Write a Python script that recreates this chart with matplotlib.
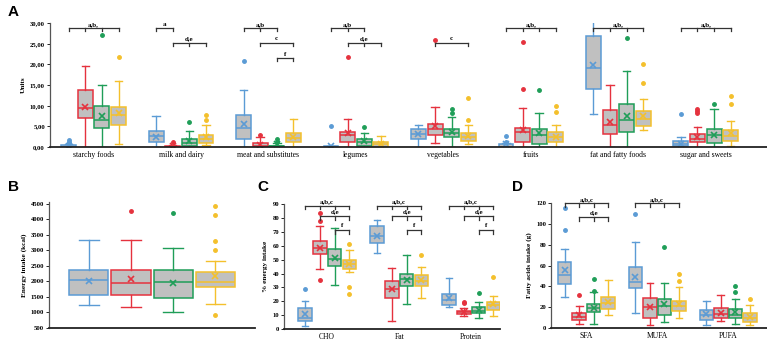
import numpy as np
import matplotlib
matplotlib.use("Agg")
import matplotlib.pyplot as plt
from matplotlib.ticker import FuncFormatter

plt.rcParams["font.family"] = ["Liberation Serif", "DejaVu Serif"]

COLORS = ["#5b9bd5", "#e5323e", "#1f9e58", "#f4c02c"]
GREY = "#c0c0c0"

# ---- Panel A: food groups (units); rows = categories, cols = groups ----
a_cats = ["starchy foods", "milk and dairy", "meat and substitutes", "legumes",
          "vegetables", "fruits", "fat and fatty foods", "sugar and sweets"]
a_lo = [[0, 0, 0, 0.8], [0, 0, 0, 0.4], [0, 0, 0, 0], [0, 0, 0, 0],
        [0, 0.9, 0, 0.6], [0, 0, 0, 0], [7.9, 0, 0, 4.0], [0, 0, 0, 0.3]]
a_q1 = [[0, 7.0, 4.5, 5.4], [1.1, 0, 0.3, 0.9], [1.9, 0, 0, 1.1], [0, 1.3, 0.3, 0],
        [2.0, 2.9, 2.3, 1.5], [0, 1.1, 0.6, 1.1], [14.0, 3.1, 3.6, 5.1], [0.2, 1.2, 0.9, 1.5]]
a_med = [[0.05, 9.5, 6.4, 7.8], [2.7, 0, 0.9, 1.9], [4.6, 0.2, 0.1, 2.2], [0, 2.9, 1.3, 0.6],
         [3.2, 4.3, 3.3, 2.5], [0.05, 3.7, 2.9, 2.5], [19.1, 5.2, 6.5, 6.8], [0.7, 1.9, 2.9, 2.7]]
a_q3 = [[0.35, 13.7, 9.8, 9.6], [3.9, 0.15, 1.9, 2.9], [7.8, 0.9, 0.3, 3.4], [0.1, 3.7, 1.9, 1.1],
        [4.3, 5.6, 4.4, 3.3], [0.6, 4.6, 4.3, 3.7], [26.8, 9.0, 10.4, 8.8], [1.4, 3.2, 4.3, 4.1]]
a_hi = [[0.6, 19.5, 15.0, 16.0], [7.5, 0.4, 3.8, 5.4], [13.9, 2.3, 1.0, 6.7], [0.1, 6.7, 3.3, 2.6],
        [5.2, 9.6, 7.2, 5.4], [0.9, 9.4, 8.3, 5.3], [30.4, 14.9, 18.5, 11.7], [2.5, 4.9, 9.1, 6.2]]
a_mean = [[0.3, 9.6, 7.5, 8.2], [2.5, 0.3, 1.5, 2.3], [5.6, 0.4, 0.6, 2.5], [0.1, 3.3, 1.4, 0.6],
          [3.2, 5.1, 3.5, 2.7], [0.6, 4.1, 3.3, 2.5], [19.9, 6.1, 7.5, 7.5], [0.8, 2.5, 2.9, 3.3]]
a_fliers = [[[0.9, 1.3, 1.6], [], [27.0], [21.8]],
            [[], [1.3], [6.1], [6.6, 7.8]],
            [[20.7], [2.8], [1.3, 1.9], []],
            [[5.1], [21.7], [4.9], []],
            [[], [25.8], [8.2, 9.1], [6.5, 11.8]],
            [[1.1, 2.7], [14.0, 25.4], [13.8], [8.5, 9.8]],
            [[], [], [26.4], [15.4, 20.0]],
            [[7.9], [8.3, 8.6, 9.1], [10.3], [10.3, 12.4]]]
# brackets: (category, groups with ticks, y level, label)
a_brackets = [(0, [0, 1, 2, 3], 28.8, "a,b,"),
              (1, [0, 1], 28.8, "a"), (1, [1, 2, 3], 25.2, "d,e"),
              (2, [0, 1, 2], 28.8, "a,b"), (2, [1, 3], 25.2, "c"), (2, [2, 3], 21.5, "f"),
              (3, [0, 1, 2], 28.8, "a,b"), (3, [1, 2, 3], 25.2, "d,e"),
              (4, [1, 3], 25.2, "c"),
              (5, [0, 1, 2, 3], 28.8, "a,b,"), (6, [0, 1, 2, 3], 28.8, "a,b,"),
              (7, [0, 1, 2, 3], 28.8, "a,b,")]

# ---- Panel B: energy intake (kcal) ----
b_lo = [[1253, 1177, 1005, 1274]]
b_q1 = [[1565, 1565, 1468, 1812]]
b_med = [[2038, 1952, 1973, 1973]]
b_q3 = [[2360, 2360, 2360, 2296]]
b_hi = [[3350, 3328, 3091, 2650]]
b_mean = [[2005, 2070, 1952, 2167]]
b_fliers = [[[], [4263], [4210], [930, 3005, 3317, 4156, 4446]]]

# ---- Panel C: % energy intake ----
c_cats = ["CHO", "Fat", "Protein"]
c_lo = [[2.5, 43.5, 31.5, 41.0], [54.5, 5.8, 18.0, 22.3], [16.2, 9.4, 7.7, 9.7]]
c_q1 = [[5.5, 53.7, 45.2, 43.0], [62.0, 22.3, 30.7, 30.7], [17.0, 10.6, 11.4, 13.8]]
c_med = [[8.0, 58.5, 50.5, 46.5], [67.0, 29.0, 36.0, 34.8], [21.0, 11.9, 13.3, 17.2]]
c_q3 = [[15.0, 63.5, 57.5, 50.0], [74.0, 34.8, 40.0, 39.2], [25.4, 13.3, 15.5, 19.8]]
c_hi = [[20.5, 74.0, 72.5, 57.0], [78.5, 44.0, 53.5, 45.0], [36.5, 15.0, 19.8, 24.0]]
c_mean = [[10.5, 58.7, 51.0, 46.5], [67.0, 28.5, 35.5, 35.0], [22.0, 12.1, 13.8, 17.7]]
c_fliers = [[[28.5], [35.0, 78.0, 83.5], [], [25.2, 30.5, 61.0]],
            [[], [], [], [53.0]],
            [[], [18.5, 19.8], [25.9], [37.3]]]
c_brackets = [(k, g, y, t) for k in range(3) for g, y, t in
              [([0, 1, 2, 3], 89, "a,b,c"), ([1, 2, 3], 81.5, "d,e"), ([2, 3], 71.5, "f")]]

# ---- Panel D: fatty acids intake (g) ----
d_cats = ["SFA", "MUFA", "PUFA"]
d_lo = [[30, 4.2, 4.2, 12.3], [14.6, 3.2, 5.5, 9.7], [2.6, 6.5, 3.9, 2.6]]
d_q1 = [[42, 7.5, 15.6, 17.8], [38.3, 9.7, 12.3, 16.2], [8.1, 9.7, 9.7, 5.8]]
d_med = [[51, 10.7, 19.5, 24.3], [44.4, 20.1, 21.0, 21.0], [12.3, 13.6, 12.3, 9.7]]
d_q3 = [[63, 14.6, 22.7, 29.8], [58.4, 28.5, 27.6, 26.0], [16.9, 19.5, 17.8, 14.6]]
d_hi = [[76, 21.0, 35.0, 46.0], [82.7, 43.0, 43.0, 39.6], [26.0, 31.5, 28.2, 21.7]]
d_mean = [[56, 12.3, 19.5, 25.0], [48.7, 20.1, 22.7, 22.7], [13.0, 14.6, 15.0, 11.0]]
d_fliers = [[[94, 115], [31.5], [35.7, 47.0], []],
            [[110], [], [77.8], [45.4, 52.0]],
            [[], [], [34.7, 40.0], [28.2]]]
d_brackets = [(0, [0, 1, 2, 3], 120, "a,b,c"), (0, [1, 2, 3], 107, "d,e"),
              (1, [0, 1, 2, 3], 120, "a,b,c")]


def draw_boxes(ax, lo, q1, med, q3, hi, mean, fliers, spacing, width):
    n = len(med)
    for g, col in enumerate(COLORS):
        stats = [dict(whislo=lo[i][g], q1=q1[i][g], med=med[i][g], q3=q3[i][g],
                      whishi=hi[i][g], mean=mean[i][g], fliers=fliers[i][g])
                 for i in range(n)]
        pos = [i + (g - 1.5) * spacing for i in range(n)]
        ax.bxp(stats, positions=pos, widths=width, patch_artist=True, showmeans=True,
               manage_ticks=False,
               boxprops=dict(facecolor=GREY, edgecolor=col, lw=1.1),
               medianprops=dict(color=col, lw=1.1),
               whiskerprops=dict(color=col, lw=1.0),
               capprops=dict(color=col, lw=1.0),
               meanprops=dict(marker="x", markeredgecolor=col, markersize=4, mew=1.2),
               flierprops=dict(marker="o", markerfacecolor=col, markeredgecolor=col,
                               markersize=2.5))


def draw_brackets(ax, brackets, spacing, tick):
    for cat, groups, y, label in brackets:
        xs = [cat + (g - 1.5) * spacing for g in groups]
        ax.plot([xs[0], xs[-1]], [y, y], color="#333333", lw=0.9, clip_on=False)
        for x in xs:
            ax.plot([x, x], [y, y - tick], color="#333333", lw=0.9, clip_on=False)
        ax.annotate(label, ((xs[0] + xs[-1]) / 2, y), xytext=(0, 1),
                    textcoords="offset points", ha="center", va="bottom",
                    fontsize=5, fontweight="bold", annotation_clip=False)


def style(ax, ylabel):
    for s in ["top", "right"]:
        ax.spines[s].set_visible(False)
    ax.spines["left"].set_color("#555555")
    ax.spines["left"].set_linewidth(0.9)
    ax.spines["bottom"].set_color("#222222")
    ax.spines["bottom"].set_linewidth(1.3)
    ax.tick_params(axis="y", labelsize=4.8, length=2, width=0.6, pad=1.5)
    ax.tick_params(axis="x", length=0, labelsize=5.5, pad=3)
    for t in ax.get_yticklabels():
        t.set_fontweight("bold")
    ax.set_ylabel(ylabel, fontsize=5.2, fontweight="bold", labelpad=3)


fig = plt.figure(figsize=(7.67, 3.44), dpi=100)

# Panel A
axA = fig.add_axes([0.065, 0.573, 0.935, 0.360])
draw_boxes(axA, a_lo, a_q1, a_med, a_q3, a_hi, a_mean, a_fliers, 0.19, 0.17)
draw_brackets(axA, a_brackets, 0.19, 0.8)
axA.set_xlim(-0.5, 7.7)
axA.set_ylim(0, 30)
axA.set_yticks(np.arange(0, 31, 5))
axA.yaxis.set_major_formatter(FuncFormatter(lambda v, p: f"{v:.2f}".replace(".", ",")))
axA.set_xticks(range(len(a_cats)))
axA.set_xticklabels(a_cats)
style(axA, "Units")

# Panel B
axB = fig.add_axes([0.064, 0.0465, 0.2686, 0.366])
draw_boxes(axB, b_lo, b_q1, b_med, b_q3, b_hi, b_mean, b_fliers, 0.205, 0.19)
axB.set_xlim(-0.5, 0.5)
axB.set_ylim(500, 4560)
axB.set_yticks(np.arange(500, 4501, 500))
axB.set_xticks([])
style(axB, "Energy intake (kcal)")

# Panel C
axC = fig.add_axes([0.3703, 0.0436, 0.2816, 0.363])
draw_boxes(axC, c_lo, c_q1, c_med, c_q3, c_hi, c_mean, c_fliers, 0.205, 0.19)
draw_brackets(axC, c_brackets, 0.205, 2.8)
axC.set_xlim(-0.6, 2.4)
axC.set_ylim(0, 90)
axC.set_yticks(np.arange(0, 91, 10))
axC.set_xticks(range(3))
axC.set_xticklabels(c_cats)
style(axC, "% energy intake")

# Panel D
axD = fig.add_axes([0.7184, 0.0465, 0.2816, 0.363])
draw_boxes(axD, d_lo, d_q1, d_med, d_q3, d_hi, d_mean, d_fliers, 0.205, 0.19)
draw_brackets(axD, d_brackets, 0.205, 3.8)
axD.set_xlim(-0.5, 2.55)
axD.set_ylim(0, 120)
axD.set_yticks(np.arange(0, 121, 20))
axD.set_xticks(range(3))
axD.set_xticklabels(d_cats)
style(axD, "Fatty acids intake (g)")

for lab, x, y in [("A", 0.010, 0.965), ("B", 0.010, 0.455), ("C", 0.336, 0.455), ("D", 0.667, 0.455)]:
    fig.text(x, y, lab, fontsize=11, fontweight="bold", family="Liberation Sans",
             ha="left", va="center")

fig.savefig("out.png", dpi=100)
